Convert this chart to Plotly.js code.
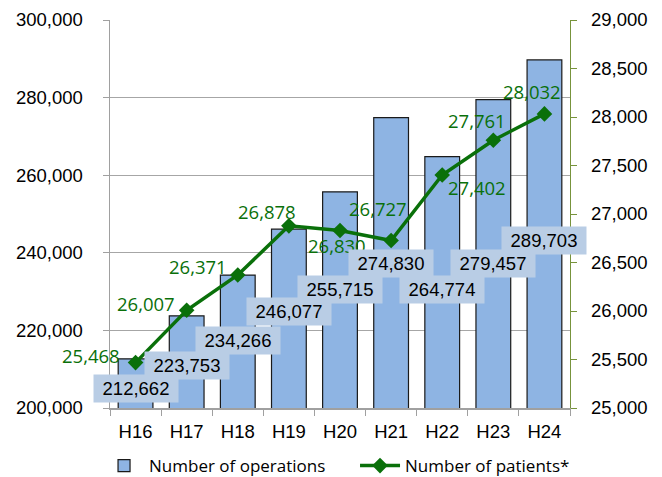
<!DOCTYPE html>
<html><head><meta charset="utf-8">
<script src="https://cdn.plot.ly/plotly-3.0.1.min.js"></script>
<style>html,body{margin:0;padding:0;background:#fff}#chart{width:662px;height:477px}</style>
</head><body><div id="chart"></div>
<script>
const categories = ['H16','H17','H18','H19','H20','H21','H22','H23','H24'];
const operations = [212662,223753,234266,246077,255715,274830,264774,279457,289703];
const patients = [25468,26007,26371,26878,26830,26727,27402,27761,28032];
// label anchor heights on the left axis (as placed in the source chart)
const opLabelPos = [205155,211082,217526,225000,230670,237371,230670,237371,243299];
// pixel offsets of patient labels from their points
const patLabelShift = [[-45,7],[-41,7],[-40,9],[-22,14],[-3,-15],[-13,32],[35,-12],[-16,20],[-12,22]];

const fmt = v => v.toLocaleString('en-US');
const green = '#0a700a';

const annotations = [];
categories.forEach((c,i)=>{
  annotations.push({x:i, y:opLabelPos[i], xref:'x', yref:'y', text:fmt(operations[i]),
    showarrow:false, bgcolor:'#b9cde5', borderpad:3, width:78, height:21,
    font:{family:'Liberation Sans, Arial', size:18.5, color:'#000'}});
  annotations.push({x:i, y:patients[i], xref:'x', yref:'y2', text:fmt(patients[i]),
    showarrow:false, xshift:patLabelShift[i][0], yshift:patLabelShift[i][1],
    font:{family:'Open Sans, Noto Sans', size:18.5, color:green}});
});

const data = [
  {type:'bar', x:categories, y:operations, name:'Number of operations', legend:'legend',
   marker:{color:'#8eb4e3', line:{color:'#1a1a1a', width:1.2}}, hoverinfo:'none'},
  {type:'scatter', mode:'lines+markers', x:categories, y:patients, yaxis:'y2', legend:'legend2',
   name:'Number of patients*', line:{color:green, width:3.5},
   marker:{symbol:'diamond', size:12, color:green}, hoverinfo:'none'}
];

const legendBase = {orientation:'h', xref:'container', yref:'container', xanchor:'left',
  y:0.023, yanchor:'middle', bgcolor:'rgba(0,0,0,0)',
  font:{family:'Open Sans, Noto Sans', size:17, color:'#000'}, itemwidth:40};

const layout = {
  width:662, height:477, margin:{l:110, r:92, t:20, b:69},
  paper_bgcolor:'#fff', plot_bgcolor:'#fff', bargap:0.32, showlegend:true,
  font:{family:'Liberation Sans, Arial', size:18.5, color:'#000'},
  xaxis:{type:'category', range:[-0.5,8.5], automargin:false, tickangle:0,
    showline:true, linecolor:'#a0a0a0', linewidth:1.5,
    ticks:'outside', tickson:'boundaries', ticklen:6, tickcolor:'#a0a0a0',
    showgrid:false, ticklabelstandoff:6, tickfont:{size:18.5}},
  yaxis:{range:[200000,300000], dtick:20000, tickformat:',d', showline:true, automargin:false,
    linecolor:'#a0a0a0', linewidth:1.5, ticks:'outside', ticklen:6, tickcolor:'#a0a0a0',
    gridcolor:'#a6a6a6', gridwidth:1.3, zeroline:false, ticklabelstandoff:16, tickfont:{size:18.5}},
  yaxis2:{range:[25000,29000], dtick:500, tickformat:',d', overlaying:'y', side:'right', automargin:false,
    showline:true, linecolor:'#77933c', linewidth:1.3, ticks:'outside', ticklen:6,
    tickcolor:'#77933c', showgrid:false, zeroline:false, ticklabelstandoff:10, tickfont:{size:18.5}},
  legend:Object.assign({}, legendBase, {x:0.1496}),
  legend2:Object.assign({}, legendBase, {x:0.5363}),
  annotations:annotations
};
Plotly.newPlot('chart', data, layout, {displayModeBar:false, staticPlot:true});
</script></body></html>
